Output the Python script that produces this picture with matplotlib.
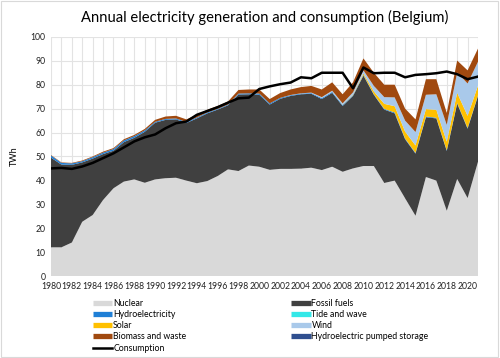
import matplotlib.pyplot as plt
from matplotlib.lines import Line2D
from matplotlib.patches import Rectangle

plt.rcParams["font.family"] = ["Lato", "DejaVu Sans"]

years = list(range(1980, 2022))

nuclear = [12, 12, 14, 22.7, 25.5, 31.8, 36.7, 39.5, 40.4, 39, 40.4, 40.9, 41.1, 39.9,
           38.8, 39.7, 41.8, 44.6, 43.9, 46.2, 45.7, 44.4, 44.8, 44.8, 44.9, 45.3, 44.3,
           45.7, 43.6, 45, 46, 46, 38.9, 39.9, 32.5, 25.2, 41.4, 39.9, 27.3, 40.6, 32.6, 47.8]
fossil = [37.5, 34.6, 32.5, 24.8, 23.6, 19.2, 15.7, 16.5, 17.4, 21.3, 23.7, 24.4, 24.4, 24.1,
          27.1, 28.3, 27.8, 26.8, 32, 29.8, 30.1, 27.3, 29.3, 30.5, 31.1, 30.9, 29.7,
          30.9, 27.5, 30.3, 37.8, 29.8, 30.7, 28.1, 24.7, 26, 25, 26, 25, 31.5, 29, 27.5]
hydro = [0.9, 0.7, 0.6, 0.5, 0.6, 0.6, 0.7, 0.7, 0.7, 0.6, 0.4, 0.4, 0.4, 0.4,
         0.4, 0.4, 0.3, 0.3, 0.4, 0.4, 0.5, 0.5, 0.4, 0.3, 0.3, 0.3, 0.4,
         0.4, 0.4, 0.3, 0.3, 0.2, 0.3, 0.4, 0.3, 0.3, 0.3, 0.3, 0.3, 0.3, 0.3, 0.3]
tide = [0] * 42
solar = [0, 0, 0, 0, 0, 0, 0, 0, 0, 0, 0, 0, 0, 0,
         0, 0, 0, 0, 0, 0, 0, 0, 0, 0, 0, 0, 0,
         0, 0.1, 0.2, 0.6, 1.2, 2.1, 2.6, 2.9, 3.1, 3.1, 3.3, 3.6, 4.2, 5.1, 4.0]
wind = [0, 0, 0, 0, 0, 0, 0, 0, 0, 0, 0, 0, 0, 0,
        0, 0, 0, 0, 0, 0, 0, 0, 0, 0.1, 0.1, 0.2, 0.4,
        0.5, 0.6, 1.0, 1.3, 2.3, 2.8, 3.7, 4.6, 5.6, 6.0, 6.5, 7.0, 8.5, 13.5, 10.0]
biomass = [0.2, 0.2, 0.2, 0.3, 0.3, 0.4, 0.4, 0.5, 0.5, 0.6, 0.8, 1.0, 1.1, 1.1,
           1.1, 1.1, 1.2, 1.3, 1.5, 1.6, 1.7, 1.8, 2.0, 2.3, 2.6, 2.8, 3.2,
           3.5, 3.8, 4.2, 5.0, 5.5, 5.2, 5.3, 5.0, 5.3, 6.5, 6.3, 5.0, 5.0, 5.5, 5.5]
pumped = [0] * 42
consumption = [45, 45.2, 44.8, 45.8, 47.3, 49.3, 51.3, 53.8, 56.3, 58, 59.2, 61.8, 63.9, 64.6,
               67.4, 69, 70.6, 72.5, 74.3, 74.6, 78.2, 79.3, 80.2, 80.9, 83.1, 82.7, 85,
               85, 85, 78.5, 87.2, 84.8, 85, 85, 83.1, 84.1, 84.4, 84.8, 85.5, 84.4, 82.3, 83.4]

labels = ["Nuclear", "Fossil fuels", "Hydroelectricity", "Tide and wave", "Solar",
          "Wind", "Biomass and waste", "Hydroelectric pumped storage"]
colors = ["#D9D9D9", "#404040", "#1F7FD6", "#33E8E8", "#FFC000",
          "#A9C9EA", "#A0490F", "#2F4F8F"]

fig = plt.figure(figsize=(5.0, 3.58), dpi=100)
ax = fig.add_axes([0.102, 0.229, 0.854, 0.668])

ax.stackplot(years, nuclear, fossil, hydro, tide, solar, wind, biomass, pumped,
             colors=colors, linewidth=0, zorder=2)
ax.plot(years, consumption, color="black", lw=1.8, zorder=3)

ax.set_xlim(1980, 2021)
ax.set_ylim(0, 100)
ax.set_yticks(range(0, 101, 10))
ax.set_xticks(range(1980, 2021, 2))
ax.set_xticks(years, minor=True)
ax.grid(which="both", axis="x", color="#E3E3E3", lw=0.8, zorder=0)
ax.grid(which="major", axis="y", color="#E3E3E3", lw=0.8, zorder=0)
ax.tick_params(which="both", length=0, labelsize=6.2, colors="#222222", pad=4)
for s in ax.spines.values():
    s.set_visible(False)
ax.set_ylabel("TWh", fontsize=6.5, labelpad=8)
ax.set_title("Annual electricity generation and consumption (Belgium)", fontsize=10.6, pad=11)

# legend: column-major order so rows read like the original
h = [Line2D([], [], color=c, lw=3.8, solid_capstyle="butt") for c in colors]
h_cons = Line2D([], [], color="black", lw=1.8)
order = [0, 2, 4, 6, None, 1, 3, 5, 7]
handles = [h_cons if i is None else h[i] for i in order]
names = ["Consumption" if i is None else labels[i] for i in order]
fig.legend(handles, names, loc="upper left", bbox_to_anchor=(0.186, 0.165), ncol=2,
           frameon=False, fontsize=6.3, handlelength=2.2, handletextpad=0.1,
           labelspacing=0.25, columnspacing=12, borderpad=0, borderaxespad=0)

fig.patches.append(Rectangle((0.002, 0.003), 0.994, 0.994, transform=fig.transFigure,
                             fill=False, edgecolor="#D9D9D9", lw=0.8))

fig.savefig("out.png", dpi=100)
